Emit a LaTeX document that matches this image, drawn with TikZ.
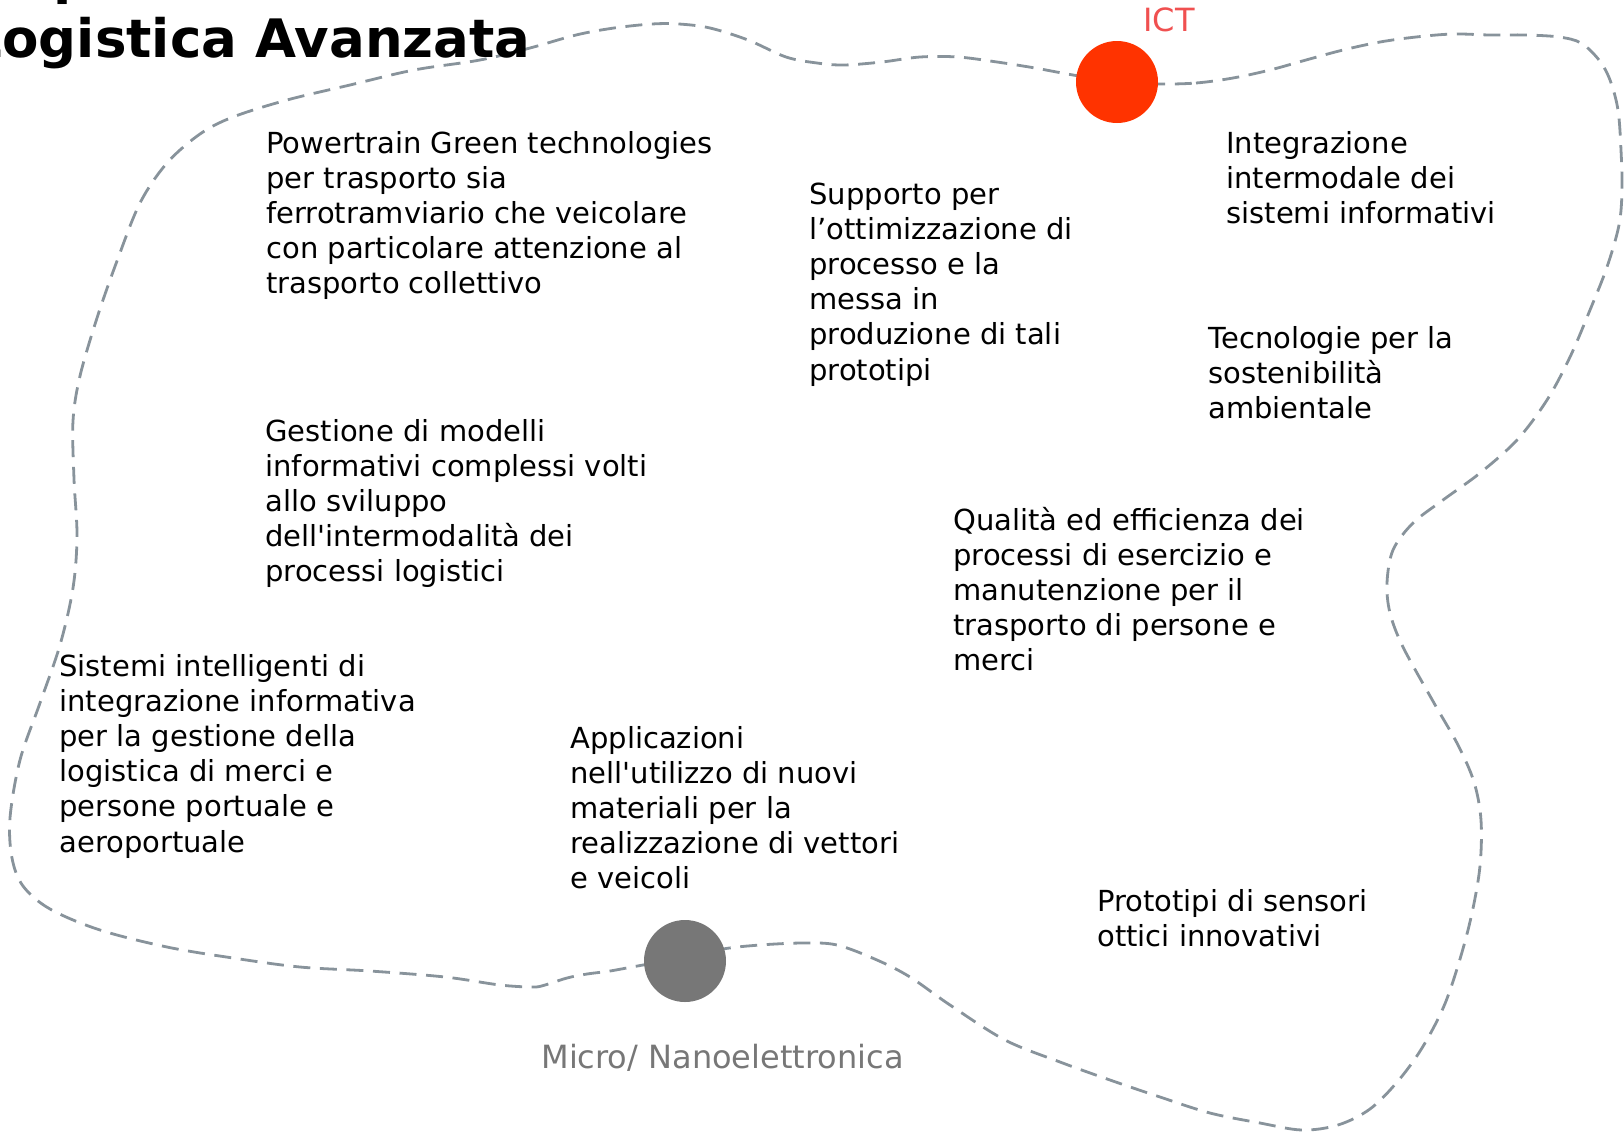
\documentclass[tikz,border=0pt]{standalone}
\usepackage{fontspec}
\setmainfont{DejaVu Sans}
\definecolor{bordergray}{RGB}{136,147,155}
\definecolor{ictred}{RGB}{255,51,0}
\definecolor{ictlabel}{RGB}{240,80,80}
\definecolor{nanogray}{RGB}{119,119,119}
\begin{document}
\begin{tikzpicture}[x=0.5pt,y=-0.5pt,
  txt/.style={anchor=base west, align=left, inner sep=0pt, font=\fontsize{14.5}{17.6}\selectfont, text=black},
  blob/.style={circle, inner sep=0pt, minimum size=41pt, draw=none},
  border/.style={draw=bordergray, line width=1.4pt, dash pattern=on 8.5pt off 4.8pt},
  titletxt/.style={inner sep=0pt, font=\fontsize{26.5}{32}\selectfont\bfseries, text=black}]
\useasboundingbox (0,0) rectangle (1624,1131);

\draw[border] plot[smooth cycle, tension=0.55] coordinates {
 (1158,84) (1196,83) (1233,78) (1270,70) (1306,60) (1343,50) (1380,42) (1416,37)
 (1453,34) (1490,35) (1526,35) (1559,37) (1581,43) (1599,60) (1610,80) (1618,110)
 (1621,150) (1622,190) (1619,225) (1607,267) (1590,310) (1570,357) (1547,400)
 (1517,440) (1480,473) (1443,500) (1413,523) (1393,550) (1387,583) (1390,613)
 (1403,647) (1434,703) (1458,745) (1474,782) (1481,820) (1480,866)
 (1472,913) (1460,959) (1444,1006) (1422,1048) (1398,1081) (1370,1109) (1338,1125)
 (1302,1130) (1260,1123) (1210,1113) (1160,1097) (1110,1080) (1060,1062) (1005,1040)
 (950,1005) (910,977) (877,960) (837,945) (803,943) (760,945)
 (723,949) (685,958) (643,965) (610,971) (587,974) (567,978) (545,985) (533,987)
 (500,985) (445,977) (370,971) (300,967) (233,958) (167,947) (100,930) (50,909)
 (23,886) (12,858) (10,818) (20,760) (40,703) (60,645) (73,588) (77,536) (74,479)
 (73,421) (80,376) (97,318) (117,261) (140,203) (167,163) (200,134) (233,117)
 (287,100) (350,85) (414,70) (480,60) (530,48) (576,35) (614,28) (652,24) (679,24)
 (710,28) (748,40) (786,57) (817,63) (844,65) (882,62) (920,57) (958,57) (997,62)
 (1035,68) (1073,75) (1117,82)};

\node[blob, fill=ictred] (ict) at (1117,82) {};
\node[blob, fill=nanogray] (nano) at (685,961) {};

\node[anchor=base west, inner sep=0pt, font=\fontsize{16}{19}\selectfont, text=ictlabel] (ictlabel) at (1143,31) {ICT};
\node[anchor=base west, inner sep=0pt, font=\fontsize{16}{19}\selectfont, text=nanogray] (nanolabel) at (541,1068) {Micro/ Nanoelettronica};

\node[titletxt, anchor=base west] (titletop) at (53,-7) {p};
\node[titletxt, anchor=base east] (title) at (531,57) {Logistica Avanzata};

\node[txt] (t1) at (266,293.8) {Powertrain Green technologies\\per trasporto sia\\ferrotramviario che veicolare\\con particolare attenzione al\\trasporto collettivo};
\node[txt] (t2) at (809,380) {Supporto per\\l’ottimizzazione di\\processo e la\\messa in\\produzione di tali\\prototipi};
\node[txt] (t3) at (1226,223.4) {Integrazione\\intermodale dei\\sistemi informativi};
\node[txt] (t4) at (1208,418.4) {Tecnologie per la\\sostenibilità\\ambientale};
\node[txt] (t5) at (265,581.8) {Gestione di modelli\\informativi complessi volti\\allo sviluppo\\dell\textquotesingle intermodalità dei\\processi logistici};
\node[txt] (t6) at (953,670.8) {Qualità ed efficienza dei\\processi di esercizio e\\manutenzione per il\\trasporto di persone e\\merci};
\node[txt] (t7) at (59,852) {Sistemi intelligenti di\\integrazione informativa\\per la gestione della\\logistica di merci e\\persone portuale e\\aeroportuale};
\node[txt] (t8) at (570,888.8) {Applicazioni\\nell\textquotesingle utilizzo di nuovi\\materiali per la\\realizzazione di vettori\\e veicoli};
\node[txt] (t9) at (1097,946.2) {Prototipi di sensori\\ottici innovativi};
\end{tikzpicture}
\end{document}
